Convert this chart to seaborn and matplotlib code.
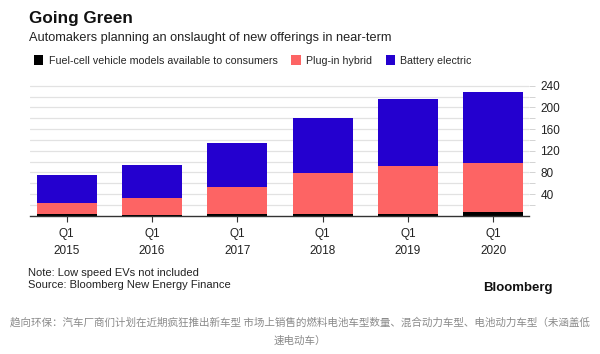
import matplotlib
matplotlib.use("Agg")
import matplotlib.pyplot as plt
import seaborn as sns
import pandas as pd
import numpy as np
from matplotlib.patches import Patch

years = ["2015", "2016", "2017", "2018", "2019", "2020"]
tick_labels = ["Q1\n" + y for y in years]
fuel_cell = [3, 2, 4, 4, 4, 6]
plug_in = [21, 31, 49, 75, 88, 91]
battery = [51, 61, 81, 102, 123, 132]
series_names = ["Fuel-cell vehicle models available to consumers", "Plug-in hybrid", "Battery electric"]
colors = ["#000000", "#fd6464", "#2400cf"]

sns.set_theme(style="white")
plt.rcParams['font.family'] = ['Liberation Sans', 'Noto Sans CJK SC', 'DejaVu Sans']

df = pd.DataFrame({"year": years, "fuel": fuel_cell, "plug": plug_in, "bev": battery})
df["top_plug"] = df["fuel"] + df["plug"]
df["total"] = df["top_plug"] + df["bev"]

fig = plt.figure(figsize=(6, 3.54), dpi=100)
fig.patch.set_facecolor("white")
ax = fig.add_axes([0.05, 0.3907, 0.832, 0.3749])

for col, c in zip(["total", "top_plug", "fuel"], [colors[2], colors[1], colors[0]]):
    sns.barplot(data=df, x="year", y=col, color=c, width=0.7, ax=ax,
                saturation=1, linewidth=0, zorder=3)

ax.set_xlim(-0.43, 5.42)
ax.set_ylim(0, 245)
ax.set_xlabel("")
ax.set_ylabel("")
ax.set_xticks(range(len(years)))
ax.set_xticklabels(tick_labels, fontsize=8.5, color="#222222", linespacing=1.55)
ax.yaxis.tick_right()
ax.set_yticks(np.arange(20, 241, 20))
ax.set_yticklabels(["" if v % 40 else str(v) for v in range(20, 241, 20)], fontsize=8.5, color="#222222")
ax.tick_params(axis="y", length=4, width=0.6, color="#cccccc", pad=4)
ax.tick_params(axis="x", length=4, width=0.8, color="#333333", pad=5, direction="out", bottom=True)
ax.grid(axis="y", color="#e2e2e2", linewidth=0.9, zorder=0)
ax.set_axisbelow(True)
for s in ["top", "right", "left"]:
    ax.spines[s].set_visible(False)
ax.spines["bottom"].set_color("#333333")
ax.spines["bottom"].set_linewidth(1.0)
ax.spines["bottom"].set_zorder(5)

fig.text(0.049, 0.947, "Going Green", fontsize=12.3, fontweight="bold", color="#111111", va="center")
fig.text(0.049, 0.893, "Automakers planning an onslaught of new offerings in near-term",
         fontsize=9.2, color="#222222", va="center")

handles = [Patch(facecolor=c, edgecolor="none") for c in colors]
fig.legend(handles, series_names, loc="center left", bbox_to_anchor=(0.05, 0.829), ncol=3,
           frameon=False, fontsize=7.7, handlelength=0.85, handleheight=1.0,
           handletextpad=0.5, columnspacing=1.3, borderaxespad=0)

fig.text(0.047, 0.228, "Note: Low speed EVs not included", fontsize=8, color="#222222", va="center")
fig.text(0.047, 0.195, "Source: Bloomberg New Energy Finance", fontsize=8, color="#222222", va="center")
fig.text(0.921, 0.187, "Bloomberg", fontsize=9.5, fontweight="bold", color="#111111",
         va="center", ha="right")

fig.text(0.5, 0.088, "趋向环保：汽车厂商们计划在近期疯狂推出新车型 市场上销售的燃料电池车型数量、混合动力车型、电池动力车型（未涵盖低",
         fontsize=7.6, color="#8a8a8a", ha="center", va="center",
         family=['Noto Sans CJK SC', 'DejaVu Sans'])
fig.text(0.5, 0.037, "速电动车）", fontsize=7.6, color="#8a8a8a", ha="center", va="center",
         family=['Noto Sans CJK SC', 'DejaVu Sans'])

fig.savefig("out.png", dpi=100, facecolor="white")
